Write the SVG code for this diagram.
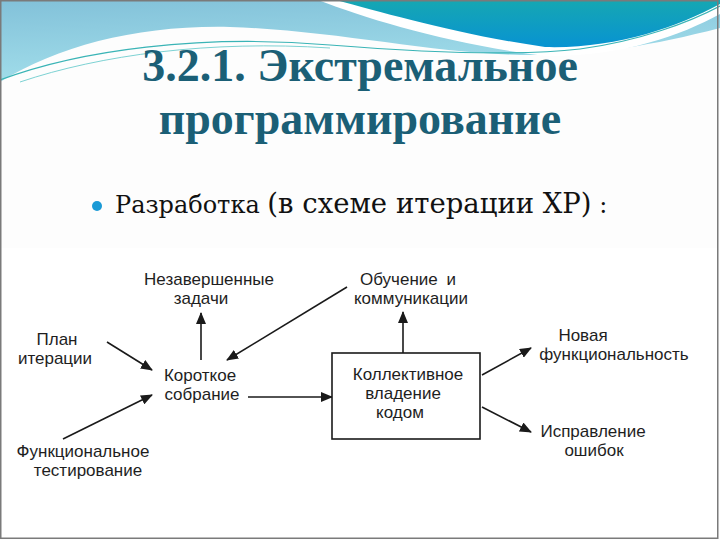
<svg xmlns="http://www.w3.org/2000/svg" width="720" height="540" viewBox="0 0 720 540">
<defs>
<linearGradient id="lb" x1="0" y1="0" x2="0.3" y2="1">
<stop offset="0" stop-color="#82c1d9"/>
<stop offset="1" stop-color="#a3dfeb"/>
</linearGradient>
<linearGradient id="dk" x1="0" y1="0" x2="0" y2="1">
<stop offset="0" stop-color="#16a7b2"/>
<stop offset="1" stop-color="#0893d2"/>
</linearGradient>
<marker id="ah" viewBox="0 0 12 10" refX="11" refY="5" markerWidth="12" markerHeight="10" markerUnits="userSpaceOnUse" orient="auto">
<path d="M0,0 L12,5 L0,10 Z" fill="#1a1a1a"/>
</marker>
<style>
.t{font-family:"Liberation Sans",Arial,sans-serif;font-size:17px;fill:#1e1e1e;text-anchor:middle}
.c{stroke:#1a1a1a;stroke-width:1.6;fill:none;marker-end:url(#ah)}
.title{font-family:"Liberation Serif","Times New Roman",serif;font-weight:bold;font-size:46px;fill:#1b5f76;text-anchor:middle}
.sub{font-family:"DejaVu Serif","Liberation Serif",serif;fill:#111}
</style>
</defs>
<rect width="720" height="540" fill="#fdfdfd"/>
<!-- header waves -->
<path d="M0,0 H720 V28 C650,46 590,56 520,55 C430,53 330,30 230,27 C140,25 60,45 0,82 Z" fill="url(#lb)"/>
<path d="M318,0 C370,20 450,44 545,56 C620,57 680,36 720,14 V0 Z" fill="#ffffff"/>
<path d="M336,0 C385,13 455,34 545,47 C615,49 675,28 720,4 V0 Z" fill="url(#dk)"/>
<path d="M0,80 C80,50 200,34 330,45 C430,53 520,56 580,49 C640,41 690,22 720,6" fill="none" stroke="#3ab4b6" stroke-width="1.2"/>
<path d="M20,82 C100,55 210,40 330,48" fill="none" stroke="#5cc6c8" stroke-width="0.8"/>
<!-- title -->
<text class="title" x="360" y="81">3.2.1. Экстремальное</text>
<text class="title" x="360" y="134">программирование</text>
<!-- bullet -->
<circle cx="97" cy="206" r="5" fill="#1a9ad6"/>
<text class="sub" x="115" y="213" font-size="24">Разработка <tspan font-size="27.5">(в схеме итерации XP)</tspan> :</text>
<!-- diagram area -->
<rect x="1" y="248" width="717" height="290" fill="#ffffff"/>
<g id="connectors">
<line class="c" x1="201" y1="360" x2="201" y2="313"/>
<line class="c" x1="107" y1="342" x2="152" y2="370"/>
<line class="c" x1="63" y1="439" x2="152" y2="395"/>
<line class="c" x1="248" y1="397" x2="332" y2="397"/>
<line class="c" x1="347" y1="287" x2="227" y2="360"/>
<line class="c" x1="403" y1="353" x2="403" y2="312"/>
<line class="c" x1="482" y1="375" x2="531" y2="348"/>
<line class="c" x1="482" y1="407" x2="531" y2="432"/>
</g>
<g id="n-nezav"><text class="t" x="209" y="285">Незавершенные</text><text class="t" x="201" y="304">задачи</text></g>
<g id="n-plan"><text class="t" x="57" y="345">План</text><text class="t" x="55" y="364">итерации</text></g>
<g id="n-korotkoe"><text class="t" x="200" y="381">Короткое</text><text class="t" x="202" y="400">собрание</text></g>
<g id="n-func"><text class="t" x="83" y="457">Функциональное</text><text class="t" x="88" y="476">тестирование</text></g>
<g id="n-box"><rect x="332" y="353" width="148" height="86" fill="#ffffff" stroke="#1a1a1a" stroke-width="1.6"/><text class="t" x="408" y="380">Коллективное</text><text class="t" x="403" y="399">владение</text><text class="t" x="400" y="418">кодом</text></g>
<g id="n-obuch"><text class="t" x="408" y="285" word-spacing="4">Обучение и</text><text class="t" x="411" y="304">коммуникации</text></g>
<g id="n-new"><text class="t" x="583" y="341">Новая</text><text class="t" x="614" y="360">функциональность</text></g>
<g id="n-fix"><text class="t" x="593" y="437">Исправление</text><text class="t" x="594" y="456">ошибок</text></g>
<rect x="0.75" y="0.75" width="717" height="537.5" fill="none" stroke="#7a7a7a" stroke-width="1.5"/>
</svg>
